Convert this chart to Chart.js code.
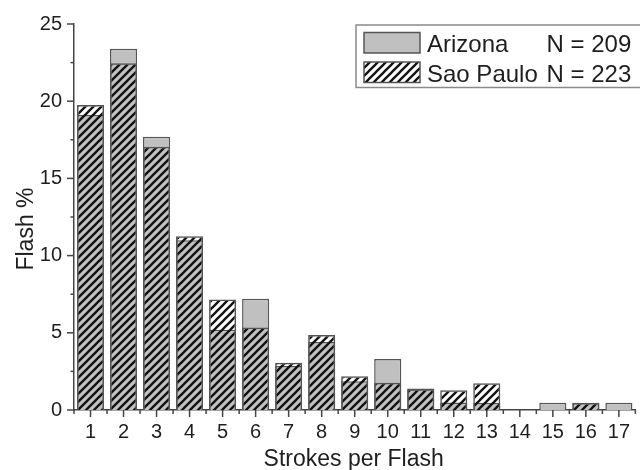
<!DOCTYPE html>
<html>
<head>
<meta charset="utf-8">
<script src="https://cdn.jsdelivr.net/npm/chart.js@4/dist/chart.umd.min.js"></script>
<style>
  html, body { margin: 0; padding: 0; background: #fff; }
  #wrap { width: 640px; height: 470px; }
</style>
</head>
<body>
<div id="wrap"><canvas id="c" width="640" height="470"></canvas></div>
<script>
// Strokes per flash (categories) and percentage of flashes per region
const strokes = ['1', '2', '3', '4', '5', '6', '7', '8', '9', '10', '11', '12', '13', '14', '15', '16', '17'];
const arizona  = [19.1, 23.4, 17.7, 11.0, 5.2, 7.2, 2.85, 4.4, 1.87, 3.3, 1.4, 0.48, 0.45, 0, 0.47, 0.47, 0.47];
const saoPaulo = [19.75, 22.45, 17.05, 11.25, 7.15, 5.35, 3.06, 4.85, 2.19, 1.77, 1.35, 1.28, 1.74, 0, 0, 0.45, 0];
const yTicks = [0, 5, 10, 15, 20, 25];
const seriesNames = ['Arizona', 'Sao Paulo'];
const seriesCounts = ['N = 209', 'N = 223'];
const xTitle = 'Strokes per Flash';
const yTitle = 'Flash %';

const FONT = '"Liberation Sans", Arial, sans-serif';
const INK = '#1e1e1e';
const AXIS = '#444';
const GRAY = '#c0c0c0';
const EDGE = '#555';

// diagonal "/" hatch used for the Sao Paulo bars
function makeHatch() {
  const s = 8;
  const c = document.createElement('canvas');
  c.width = s; c.height = s;
  const g = c.getContext('2d');
  g.strokeStyle = '#111';
  g.lineWidth = 2.3;
  g.beginPath();
  g.moveTo(-1, s + 1); g.lineTo(s + 1, -1);
  g.moveTo(-s / 2 - 1, s / 2 + 1); g.lineTo(s / 2 + 1, -s / 2 - 1);
  g.moveTo(s / 2 - 1, s * 1.5 + 1); g.lineTo(s * 1.5 + 1, s / 2 - 1);
  g.stroke();
  return g.createPattern(c, 'repeat');
}
const hatch = makeHatch();

// tick marks, axis titles and the boxed legend
const decorations = {
  id: 'decorations',
  afterDraw(chart) {
    const { ctx, chartArea: a, scales: { x, y } } = chart;
    ctx.save();
    ctx.strokeStyle = AXIS;
    ctx.lineWidth = 1.5;
    const seg = (x1, y1, x2, y2) => { ctx.beginPath(); ctx.moveTo(x1, y1); ctx.lineTo(x2, y2); ctx.stroke(); };

    // y ticks: majors at labelled values, minors halfway
    for (let i = 0; i < yTicks.length; i++) {
      const py = y.getPixelForValue(yTicks[i]);
      seg(a.left - 7, py, a.left, py);
      if (i < yTicks.length - 1) {
        const pm = y.getPixelForValue((yTicks[i] + yTicks[i + 1]) / 2);
        seg(a.left - 3.5, pm, a.left, pm);
      }
    }
    // x ticks: majors at categories, minors at category boundaries
    for (let i = 0; i < strokes.length; i++) {
      const px = x.getPixelForValue(i);
      seg(px, a.bottom, px, a.bottom + 7);
    }
    for (let i = 0; i <= strokes.length; i++) {
      const px = x.getPixelForValue(i - 0.5);
      seg(px, a.bottom, px, a.bottom + 4);
    }

    // axis titles
    ctx.fillStyle = INK;
    ctx.font = '23px ' + FONT;
    ctx.textAlign = 'center';
    ctx.textBaseline = 'alphabetic';
    ctx.fillText(xTitle, (a.left + a.right) / 2 - 1, 465.5);
    ctx.save();
    ctx.translate(32.5, 229);
    ctx.rotate(-Math.PI / 2);
    ctx.fillText(yTitle, 0, 0);
    ctx.restore();

    // legend
    ctx.strokeStyle = '#8a8a8a';
    ctx.lineWidth = 1.5;
    ctx.strokeRect(356, 25, 290, 62.5);
    const rows = [
      { fill: GRAY, top: 32.5, base: 51.7 },
      { fill: hatch, top: 62, base: 81.7 }
    ];
    ctx.font = '24px ' + FONT;
    ctx.textAlign = 'left';
    rows.forEach((r, i) => {
      ctx.fillStyle = '#fff';
      ctx.fillRect(364, r.top, 56, 20.5);
      ctx.fillStyle = r.fill;
      ctx.fillRect(364, r.top, 56, 20.5);
      ctx.strokeStyle = EDGE;
      ctx.lineWidth = 1.5;
      ctx.strokeRect(364, r.top, 56, 20.5);
      ctx.fillStyle = INK;
      ctx.fillText(seriesNames[i], 427, r.base);
      ctx.fillText(seriesCounts[i], 546.5, r.base);
    });
    ctx.restore();
  }
};

new Chart(document.getElementById('c'), {
  type: 'bar',
  data: {
    labels: strokes,
    datasets: [
      {
        label: seriesNames[0],
        data: arizona,
        backgroundColor: GRAY,
        borderColor: EDGE,
        borderWidth: 1.5,
        grouped: false,
        order: 2,
        barPercentage: 0.82,
        categoryPercentage: 1.0
      },
      {
        label: seriesNames[1],
        data: saoPaulo,
        backgroundColor: hatch,
        borderColor: EDGE,
        borderWidth: 1.5,
        grouped: false,
        order: 1,
        barPercentage: 0.82,
        categoryPercentage: 1.0
      }
    ]
  },
  options: {
    responsive: false,
    devicePixelRatio: 1,
    animation: false,
    layout: { padding: { top: 17.5, right: -2, left: 0, bottom: 0 } },
    plugins: { legend: { display: false }, tooltip: { enabled: false } },
    scales: {
      x: {
        offset: true,
        grid: { display: false, drawTicks: false },
        border: { display: true, color: AXIS, width: 1.5 },
        ticks: {
          color: INK,
          font: { family: FONT, size: 20 },
          padding: 10,
          maxRotation: 0,
          autoSkip: false
        },
        afterFit(scale) { scale.height = 60; }
      },
      y: {
        min: 0,
        max: 25,
        grid: { display: false, drawTicks: false },
        border: { display: true, color: AXIS, width: 1.5 },
        ticks: {
          stepSize: 5,
          color: INK,
          font: { family: FONT, size: 20 },
          padding: 12
        },
        afterFit(scale) { scale.width = 74; }
      }
    }
  },
  plugins: [decorations]
});
</script>
</body>
</html>
